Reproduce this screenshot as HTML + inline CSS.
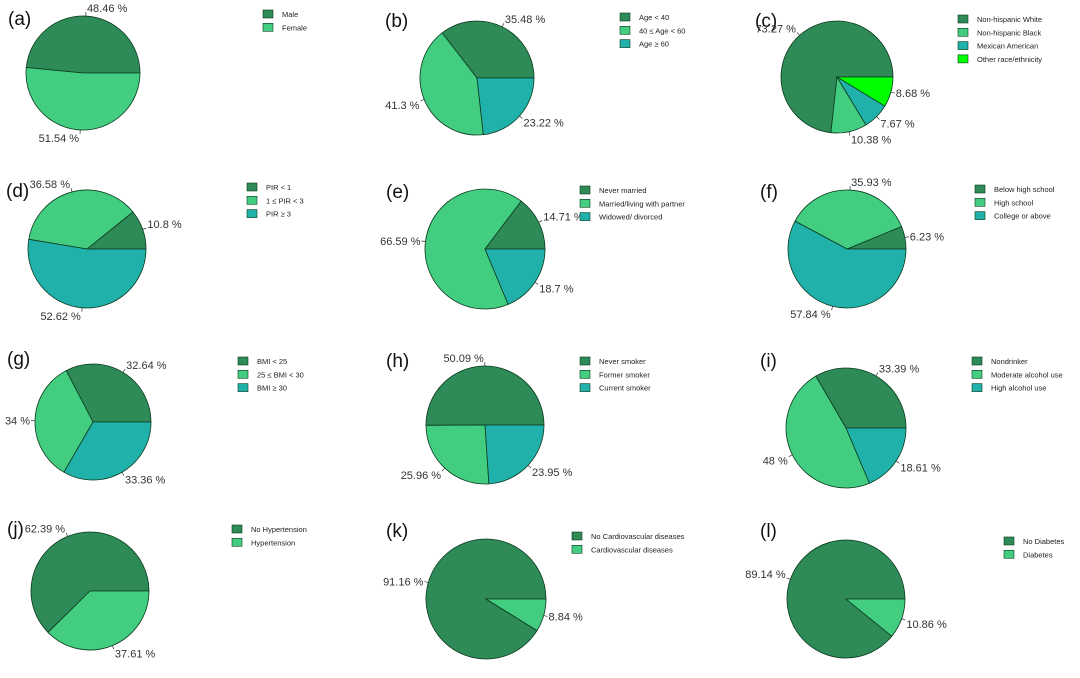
<!DOCTYPE html>
<html><head><meta charset="utf-8"><style>
body{margin:0;background:#fff;}
svg{display:block;font-family:"Liberation Sans",sans-serif;}
</style></head><body>
<svg id="chart" width="1080" height="678" viewBox="0 0 1080 678"></svg>
<script>
const titles = ["(a)","(b)","(c)","(d)","(e)","(f)","(g)","(h)","(i)","(j)","(k)","(l)"];
const categories = [
 ["Male","Female"],
 ["Age < 40","40 \u2264 Age < 60","Age \u2265 60"],
 ["Non-hispanic White","Non-hispanic Black","Mexican American","Other race/ethnicity"],
 ["PIR < 1","1 \u2264 PIR < 3","PIR \u2265 3"],
 ["Never married","Married/living with partner","Widowed/ divorced"],
 ["Below high school","High school","College or above"],
 ["BMI < 25","25 \u2264 BMI < 30","BMI \u2265 30"],
 ["Never smoker","Former smoker","Current smoker"],
 ["Nondrinker","Moderate alcohol use","High alcohol use"],
 ["No Hypertension","Hypertension"],
 ["No Cardiovascular diseases","Cardiovascular diseases"],
 ["No Diabetes","Diabetes"]
];
const values = [
 [48.46,51.54],
 [35.48,41.3,23.22],
 [73.27,10.38,7.67,8.68],
 [10.8,36.58,52.62],
 [14.71,66.59,18.7],
 [6.23,35.93,57.84],
 [32.64,34,33.36],
 [50.09,25.96,23.95],
 [33.39,48,18.61],
 [62.39,37.61],
 [91.16,8.84],
 [89.14,10.86]
];
const valueLabels = values.map(v=>v.map(x=>x+" %"));
const colors = ["#2e8b57","#43cd80","#20b2aa","#00ff00"];
// layout (not data)
const layout = [
 {cx:83,cy:73,r:57,tx:8,ty:25,lx:263,ly:10},
 {cx:477,cy:78,r:57,tx:385,ty:27,lx:620,ly:13},
 {cx:837,cy:77,r:56,tx:755,ty:27,lx:958,ly:15},
 {cx:87,cy:249,r:59,tx:6,ty:197,lx:247,ly:183},
 {cx:485,cy:249,r:60,tx:386,ty:198,lx:580,ly:186},
 {cx:847,cy:249,r:59,tx:760,ty:198,lx:975,ly:185},
 {cx:93,cy:422,r:58,tx:7,ty:365,lx:238,ly:357},
 {cx:485,cy:425,r:59,tx:386,ty:367,lx:580,ly:357},
 {cx:846,cy:428,r:60,tx:760,ty:367,lx:972,ly:357},
 {cx:90,cy:591,r:59,tx:7,ty:535,lx:232,ly:525},
 {cx:486,cy:599,r:60,tx:386,ty:537,lx:572,ly:532},
 {cx:846,cy:599,r:59,tx:760,ty:537,lx:1004,ly:537}
];
const NS="http://www.w3.org/2000/svg";
const svg=document.getElementById('chart');
function mk(tag,attrs,parent){const e=document.createElementNS(NS,tag);for(const k in attrs)e.setAttribute(k,attrs[k]);(parent||svg).appendChild(e);return e;}
titles.forEach((t,i)=>{
 const L=layout[i];
 const g=mk('g',{});
 
 
 const tt=mk('text',{x:L.tx,y:L.ty,'font-size':19,fill:'#111'},g);
 tt.textContent=t;
 
 
 const vals=values[i];
 const tot=vals.reduce((a,b)=>a+b,0);
 let a0=0;
 vals.forEach((v,j)=>{
  const a1=a0+v/tot*2*Math.PI;
  const x0=L.cx+L.r*Math.cos(a0),y0=L.cy-L.r*Math.sin(a0);
  const x1=L.cx+L.r*Math.cos(a1),y1=L.cy-L.r*Math.sin(a1);
  const large=(a1-a0)>Math.PI?1:0;
  const p=mk('path',{d:`M${L.cx},${L.cy}L${x0},${y0}A${L.r},${L.r} 0 ${large} 0 ${x1},${y1}Z`,fill:colors[j],stroke:'#0b3a1e','stroke-width':0.8},g);
  
  
  const am=(a0+a1)/2, c=Math.cos(am), s=Math.sin(am);
  const ex=L.cx+L.r*c, ey=L.cy-L.r*s;
  const lx=L.cx+(L.r+4)*c, ly=L.cy-(L.r+4)*s;
  mk('line',{x1:ex,y1:ey,x2:lx,y2:ly,stroke:'#333','stroke-width':0.7},g);
  const lab=mk('text',{x:lx+(c>=0?1:-1),y:ly+(s>0.3?0:(s<-0.3?8:4)),'font-size':11,fill:'#333','text-anchor':c>=0?'start':'end'},g);
  lab.textContent=valueLabels[i][j];
  
  
  a0=a1;
 });
 categories[i].forEach((name,j)=>{
  const y=L.ly+j*13.3;
  const sq=mk('rect',{x:L.lx,y:y,width:10,height:8,fill:colors[j],stroke:'#0b3a1e','stroke-width':0.6},g);
  
  
  const tx=mk('text',{x:L.lx+19,y:y+7,'font-size':7.5,fill:'#222'},g);
  tx.textContent=name;
  
  
 });
});
</script>
</body></html>
